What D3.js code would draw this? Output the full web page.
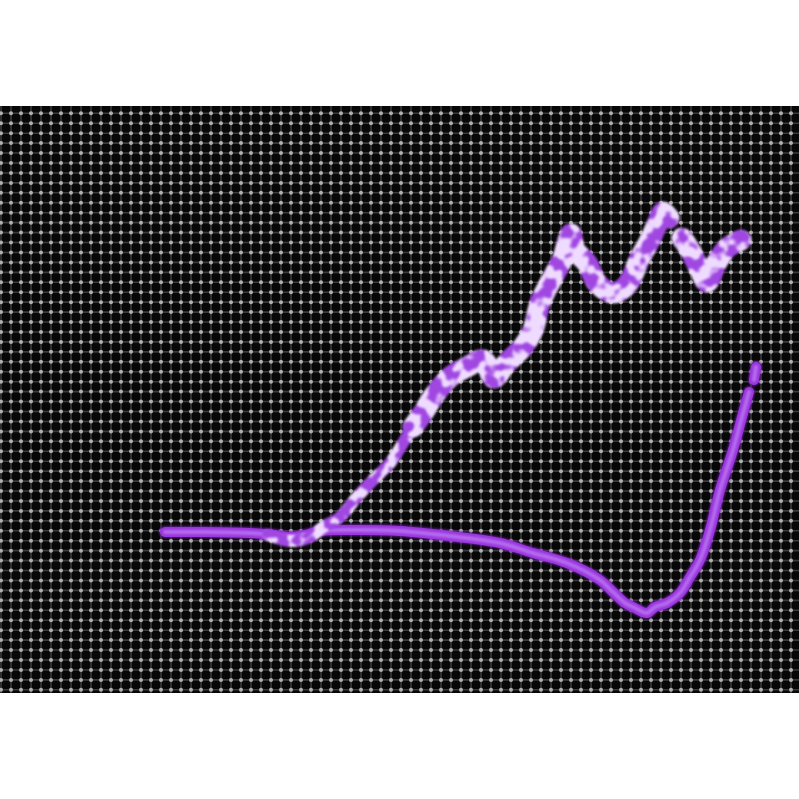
<!DOCTYPE html>
<html><head><meta charset="utf-8">
<script src="https://cdn.jsdelivr.net/npm/d3@7"></script>
<style>html,body{margin:0;padding:0;background:#fff;}svg{display:block;}</style>
</head><body>
<script>
// Series A (thin trace): x = time step, y = level
const seriesAx = [33,40,50,55,58,61,64,70,80,90,100,106.6,113.4,120,122.6,125,126.6,129.4,131,133.4,136,138,140,142,144,146.6,148.4,149.8,null,150.8,151.2];
const seriesAy = [33.6,33.6,33.4,33,32.6,33,33.8,34,33.8,32.8,31.4,29.4,27.4,24,21.6,19.4,18.6,17.4,18.6,19.4,21.4,24.6,28,34,42,50,56.6,61.6,null,64,66.6];
// Series B (thick trace)
const seriesBx = [53.6,58,62,64.6,68,71.4,74.6,78,80.6,82.6,85,86.6,90,93.4,96.6,98.8,101,103,104.6,106.6,108,110.6,112.6,113.6,114.2,115,117.4,119.4,122.6,125.4,128,130,131.6,132.6,133.8,null,136.4,138,140,141.4,143.4,145.4,147.4,148.2];
const seriesBy = [33,31.8,32.6,34.6,36.6,40.6,44,47.4,51.4,54.6,58,60.6,64.6,66.6,68,64.4,67,69,70.6,74,79.4,84.6,88.4,92,93.2,90,87.4,83.4,81.4,83,88.4,92,95.6,97.6,96.4,null,92.4,90,86,83.6,87.6,90.4,91.6,92];

const W = 799, H = 799;
const svg = d3.select("body").append("svg").attr("width", W).attr("height", H);
const plotTop = 106, plotBottom = 693;
const x = d3.scaleLinear().domain([0, 160]).range([0, 800]);
const y = d3.scaleLinear().domain([0, 120]).range([700, 100]);

const defs = svg.append("defs");
const clip = defs.append("clipPath").attr("id", "plot");
clip.append("rect").attr("x", 0).attr("y", plotTop).attr("width", W).attr("height", plotBottom - plotTop);

const fSoft = defs.append("filter").attr("id", "soft");
fSoft.append("feGaussianBlur").attr("stdDeviation", 0.7);
const fGlow = defs.append("filter").attr("id", "glow").attr("x", "-20%").attr("y", "-20%").attr("width", "140%").attr("height", "140%");
fGlow.append("feGaussianBlur").attr("stdDeviation", 1.2);

function mottle(id, split, freq, seed) {
  const f = defs.append("filter").attr("id", id).attr("x", "-10%").attr("y", "-10%").attr("width", "120%").attr("height", "120%")
    .attr("color-interpolation-filters", "sRGB");
  f.append("feTurbulence").attr("type", "fractalNoise").attr("baseFrequency", freq).attr("numOctaves", 2).attr("seed", seed).attr("result", "noise");
  f.append("feColorMatrix").attr("in", "noise").attr("type", "matrix")
    .attr("values", "1 0 0 0 0  1 0 0 0 0  1 0 0 0 0  0 0 0 0 1").attr("result", "gray");
  const ct = f.append("feComponentTransfer").attr("in", "gray").attr("result", "tex");
  const purple = [0.63, 0.28, 0.89], light = [0.94, 0.86, 1.0];
  const table = ch => d3.range(0, 41).map(i => {
    const n = i / 40;
    const t = Math.max(0, Math.min(1, (n - split) / 0.1));
    return (purple[ch] + (light[ch] - purple[ch]) * t).toFixed(3);
  }).join(" ");
  ct.append("feFuncR").attr("type", "table").attr("tableValues", table(0));
  ct.append("feFuncG").attr("type", "table").attr("tableValues", table(1));
  ct.append("feFuncB").attr("type", "table").attr("tableValues", table(2));
  f.append("feComposite").attr("in", "tex").attr("in2", "SourceGraphic").attr("operator", "in").attr("result", "cl");
  f.append("feGaussianBlur").attr("in", "cl").attr("stdDeviation", 0.8);
}
mottle("mottle", 0.435, 0.07, 7);
mottle("mottleLow", 0.48, 0.08, 3);

// background
svg.append("rect").attr("x", 0).attr("y", plotTop).attr("width", W).attr("height", plotBottom - plotTop).attr("fill", "#070707");

// dotted grid
const gridG = svg.append("g").attr("clip-path", "url(#plot)");
const cols = d3.range(0, 81).map(i => 1 + i * 10);
const rows = d3.range(-1, 59).map(i => 113.3 + i * 9.94);
const lines = gridG.append("g").attr("filter", "url(#soft)");
lines.selectAll("line.v").data(cols).join("line").attr("x1", d => d).attr("x2", d => d)
  .attr("y1", plotTop).attr("y2", plotBottom).attr("stroke", "#3a3a3a").attr("stroke-width", 1.6);
lines.selectAll("line.h").data(rows).join("line").attr("y1", d => d).attr("y2", d => d)
  .attr("x1", 0).attr("x2", W).attr("stroke", "#3a3a3a").attr("stroke-width", 1.6);
const dots = gridG.append("g").attr("filter", "url(#soft)");
const pts = [];
cols.forEach(c => rows.forEach(r => pts.push([c, r])));
dots.selectAll("circle").data(pts).join("circle").attr("cx", d => d[0]).attr("cy", d => d[1])
  .attr("r", 2).attr("fill", "#b0b0b0");

// lines
const mk = (xs, ys) => xs.map((v, i) => (v === null ? null : [v, ys[i]]));
const A = mk(seriesAx, seriesAy);
const B = mk(seriesBx, seriesBy);
const line = d3.line().defined(d => d !== null).x(d => x(d[0])).y(d => y(d[1])).curve(d3.curveCatmullRom.alpha(0.5));

const plot = svg.append("g").attr("clip-path", "url(#plot)");
// Series A
plot.append("path").attr("d", line(A)).attr("fill", "none").attr("stroke", "#6a1fa8")
  .attr("stroke-width", 12).attr("stroke-linecap", "round").attr("stroke-linejoin", "round").attr("filter", "url(#glow)").attr("opacity", 0.8);
plot.append("path").attr("d", line(A)).attr("fill", "none").attr("stroke", "#9a36dc")
  .attr("stroke-width", 10).attr("stroke-linecap", "round").attr("stroke-linejoin", "round");
plot.append("path").attr("d", line(A)).attr("fill", "none").attr("stroke", "#b56cf0")
  .attr("stroke-width", 4).attr("stroke-linecap", "round").attr("stroke-linejoin", "round").attr("filter", "url(#glow)");

// Series B: textured, width grows along the trace
const Blow = B.slice(0, 11);
const Bhigh = B.slice(9);
plot.append("g").attr("filter", "url(#mottleLow)").append("path").attr("d", line(Blow)).attr("fill", "none").attr("stroke", "#000")
  .attr("stroke-width", 12).attr("stroke-linecap", "round").attr("stroke-linejoin", "round");
plot.append("g").attr("filter", "url(#mottle)").append("path").attr("d", line(Bhigh)).attr("fill", "none").attr("stroke", "#000")
  .attr("stroke-width", 21).attr("stroke-linecap", "round").attr("stroke-linejoin", "round");
</script>
</body></html>
